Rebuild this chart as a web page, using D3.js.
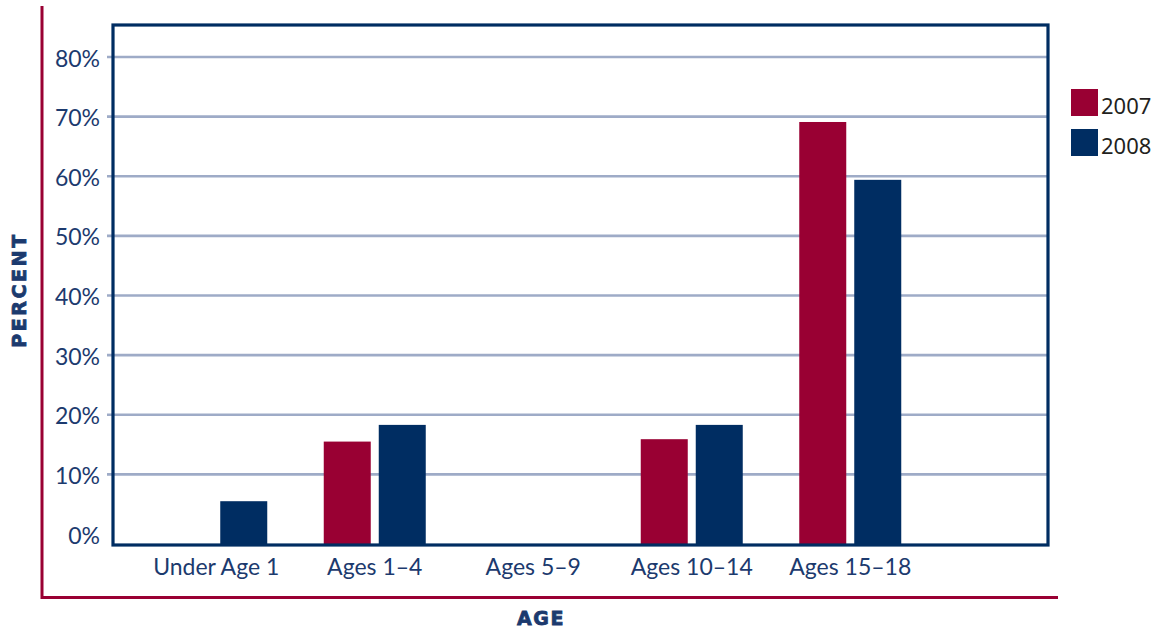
<!DOCTYPE html>
<html>
<head>
<meta charset="utf-8">
<script src="https://cdn.jsdelivr.net/npm/d3@7"></script>
<style>
  html, body { margin: 0; padding: 0; background: #fff; }
  svg { display: block; }
</style>
</head>
<body>
<div id="chart"></div>
<script>
// ---- data ----
const categories = ["Under Age 1", "Ages 1\u20134", "Ages 5\u20139", "Ages 10\u201314", "Ages 15\u201318"];
const seriesNames = ["2007", "2008"];
const values2007 = [null, 15.5, null, 15.9, 69.1];
const values2008 = [5.5, 18.3, null, 18.3, 59.4];
const tickValues = [0, 10, 20, 30, 40, 50, 60, 70, 80];
const tickLabels = ["0%", "10%", "20%", "30%", "40%", "50%", "60%", "70%", "80%"];
const axisTitleY = "PERCENT";
const axisTitleX = "AGE";

// ---- styles ----
const RED = "#990033";
const NAVY = "#002d62";
const GRID = "#9eabc7";
const TEXT = "#1c3a6e";
const colors = [RED, NAVY];

const W = 1162, H = 633;
const frame = { left: 113, top: 25, right: 1048, bottom: 545 };

const svg = d3.select("#chart").append("svg")
  .attr("width", W).attr("height", H);

const y = d3.scaleLinear().domain([0, 80]).range([534, 57]);
const x = d3.scaleBand().domain(categories).range([137, 929.5]).paddingInner(0).paddingOuter(0);
const xs = d3.scaleBand().domain(seriesNames).range([0, 102]).paddingInner(0.1455).paddingOuter(0);

// gridlines (10%..80%)
svg.append("g").selectAll("line")
  .data(tickValues.filter(v => v > 0))
  .join("line")
  .attr("x1", 107).attr("x2", frame.right)
  .attr("y1", d => y(d)).attr("y2", d => y(d))
  .attr("stroke", GRID).attr("stroke-width", 2.6);

// bars
const rows = [];
categories.forEach((c, i) => {
  [values2007[i], values2008[i]].forEach((v, j) => {
    if (v != null) rows.push({ cat: c, series: seriesNames[j], value: v, color: colors[j] });
  });
});
svg.append("g").selectAll("rect")
  .data(rows)
  .join("rect")
  .attr("x", d => x(d.cat) + x.bandwidth() / 2 - 51 + xs(d.series))
  .attr("width", xs.bandwidth())
  .attr("y", d => y(d.value))
  .attr("height", d => frame.bottom - y(d.value))
  .attr("fill", d => d.color);

// frame
svg.append("rect")
  .attr("x", frame.left).attr("y", frame.top)
  .attr("width", frame.right - frame.left).attr("height", frame.bottom - frame.top)
  .attr("fill", "none").attr("stroke", NAVY).attr("stroke-width", 3.2);

// y tick labels
svg.append("g").selectAll("text")
  .data(tickValues)
  .join("text")
  .attr("x", 100)
  .attr("y", d => y(d) + 1.5)
  .attr("dy", "0.35em")
  .attr("text-anchor", "end")
  .attr("font-family", "Lato, 'Noto Sans', sans-serif")
  .attr("font-size", 23)
  .attr("fill", TEXT)
  .text((d, i) => tickLabels[i]);

// x category labels
svg.append("g").selectAll("text")
  .data(categories)
  .join("text")
  .attr("x", d => x(d) + x.bandwidth() / 2)
  .attr("y", 575)
  .attr("text-anchor", "middle")
  .attr("font-family", "Lato, 'Noto Sans', sans-serif")
  .attr("font-size", 23)
  .attr("fill", TEXT)
  .text(d => d);

// outer red L
svg.append("path")
  .attr("d", "M42,6 L42,597.5 L1058,597.5")
  .attr("fill", "none").attr("stroke", RED).attr("stroke-width", 3);

// axis titles
svg.append("text")
  .attr("transform", "translate(26,290) rotate(-90)")
  .attr("text-anchor", "middle")
  .attr("font-family", "'DejaVu Sans', sans-serif")
  .attr("font-weight", "bold")
  .attr("font-size", 19)
  .attr("letter-spacing", 2.6)
  .attr("fill", TEXT)
  .attr("stroke", TEXT).attr("stroke-width", 0.8)
  .text(axisTitleY);

svg.append("text")
  .attr("x", 541).attr("y", 625)
  .attr("text-anchor", "middle")
  .attr("font-family", "'DejaVu Sans', sans-serif")
  .attr("font-weight", "bold")
  .attr("font-size", 19)
  .attr("letter-spacing", 1.5)
  .attr("fill", TEXT)
  .attr("stroke", TEXT).attr("stroke-width", 0.8)
  .text(axisTitleX);

// legend
const legend = svg.append("g").selectAll("g")
  .data(seriesNames)
  .join("g")
  .attr("transform", (d, i) => `translate(1071,${89 + i * 40})`);
legend.append("rect")
  .attr("width", 27).attr("height", 27)
  .attr("fill", (d, i) => colors[i]);
legend.append("text")
  .attr("x", 30).attr("y", 25)
  .attr("font-family", "'Noto Sans', 'Open Sans', sans-serif")
  .attr("font-size", 22)
  .attr("fill", "#231f20")
  .text(d => d);
</script>
</body>
</html>
